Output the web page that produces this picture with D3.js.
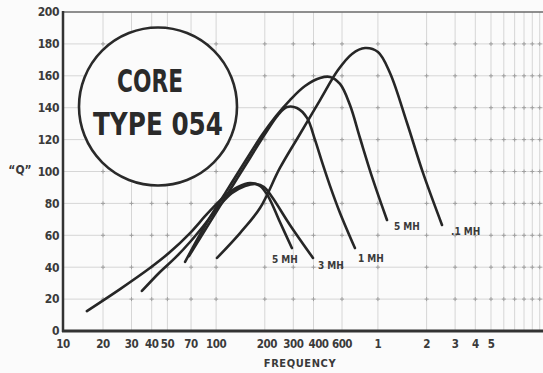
<!DOCTYPE html>
<html><head><meta charset="utf-8">
<script src="https://cdn.jsdelivr.net/npm/d3@7/dist/d3.min.js"></script>
<style>
html,body{margin:0;padding:0;background:#fbfbfb;}
svg{display:block;}
text{font-family:"Liberation Sans Narrow","DejaVu Sans Condensed","Arial Narrow",sans-serif;font-weight:bold;fill:#3a3a3a;}
</style></head>
<body>
<script>
// ---- data ----
const xTickValues = [10, 20, 30, 40, 50, 70, 100, 200, 300, 400, 600, 1000, 2000, 3000, 4000, 5000];
const xTickLabels = ["10","20","30","40","50","70","100","200","300","400","600","1","2","3","4","5"];
const xMinorGrid = [6000, 7000, 8000, 9000, 10000];
const yTickValues = [0, 20, 40, 60, 80, 100, 120, 140, 160, 180, 200];

const seriesNames = ["5 MH", "3 MH", "1 MH", "5 MH", ".1 MH"];
const freq5mH  = [15.9, 25.5, 39.0, 51.9, 69.0, 89.1, 113.5, 136.6, 162, 186.8, 209.4, 248, 294];
const q5mH     = [12.5, 26.3, 39.5, 49.5, 61.4, 74, 84.6, 90.3, 92.8, 90.9, 84.6, 68.3, 52];
const freq3mH  = [34.8, 45.0, 55.8, 69.0, 85.4, 105.8, 125.5, 151, 176.5, 197.8, 221.7, 286, 397];
const q3mH     = [25.1, 37, 45.8, 55.8, 67.1, 79, 86.5, 90.9, 92.2, 90.3, 84, 66.5, 45.8];
const freq1mH  = [68.0, 91.7, 121.9, 162, 200.5, 241.3, 274.3, 316, 364.6, 408.7, 451.3, 505.8, 583.3, 721];
const q1mH     = [47, 68.3, 88.4, 108.5, 123.5, 135.4, 140.4, 139.8, 133.6, 119.8, 106, 91, 74, 52];
const freq05mH = [64.3, 86.6, 115.1, 153, 192.1, 234.6, 286.2, 354.4, 439, 505.8, 583.3, 672, 775, 933, 1138];
const q05mH    = [43.3, 67.1, 87.2, 107.2, 122.9, 134.8, 144.8, 153.6, 158.6, 159.3, 154.9, 141.7, 121, 94.7, 69.6];
const freq01mH = [101.3, 140.6, 186.8, 248, 330, 439, 566.8, 691.7, 832.4, 1001, 1188, 1514, 1900, 2490];
const q01mH    = [45.8, 61.4, 77.1, 102.2, 123.5, 144.8, 163.6, 173.7, 177.4, 174.9, 161.8, 130.4, 99.1, 66.5];

const W = 543, H = 373;
const svg = d3.select("body").append("svg").attr("width", W).attr("height", H);

const plotLeft = 63, plotTop = 12, plotBottom = 331, plotRight = 543;
const x = d3.scaleLog().domain([10, 10000]).range([54.3, 539.7]);
const y = d3.scaleLinear().domain([0, 200]).range([plotBottom, plotTop]);

// grid
const gridFreqs = xTickValues.slice(1).concat(xMinorGrid);
const grid = svg.append("g");
grid.selectAll("line.v").data(gridFreqs).join("line")
  .attr("x1", d => x(d)).attr("x2", d => x(d))
  .attr("y1", plotTop).attr("y2", plotBottom)
  .attr("stroke", "#d6d6d6").attr("stroke-width", 1);
grid.selectAll("line.h").data(yTickValues.slice(1, -1)).join("line")
  .attr("x1", plotLeft).attr("x2", plotRight)
  .attr("y1", d => y(d)).attr("y2", d => y(d))
  .attr("stroke", "#d6d6d6").attr("stroke-width", 1);
const inter = [];
gridFreqs.forEach(f => yTickValues.slice(1, -1).forEach(q => inter.push([f, q])));
grid.selectAll("path.c").data(inter).join("path")
  .attr("d", d => `M${x(d[0]) - 2},${y(d[1])}h4M${x(d[0])},${y(d[1]) - 2}v4`)
  .attr("stroke", "#a0a0a0").attr("stroke-width", 1);

// frame
svg.append("line").attr("x1", plotLeft).attr("x2", plotRight).attr("y1", plotTop).attr("y2", plotTop)
  .attr("stroke", "#6a6a6a").attr("stroke-width", 1.5);
svg.append("line").attr("x1", plotLeft).attr("x2", plotLeft).attr("y1", plotTop - 1).attr("y2", plotBottom + 1)
  .attr("stroke", "#333").attr("stroke-width", 2.5);
svg.append("line").attr("x1", plotLeft - 1).attr("x2", plotRight).attr("y1", plotBottom).attr("y2", plotBottom)
  .attr("stroke", "#333").attr("stroke-width", 3);

// y tick labels
svg.append("g").selectAll("text").data(yTickValues).join("text")
  .attr("x", 59).attr("y", d => y(d)).attr("dy", "0.36em")
  .attr("text-anchor", "end").attr("font-size", 12).attr("letter-spacing", -0.4).text(d => d);

// x tick labels
const labelShift = {200: 2, 400: 5};
svg.append("g").selectAll("text").data(xTickValues).join("text")
  .attr("x", (d, i) => (i === 0 ? plotLeft : x(d)) + (labelShift[d] || 0)).attr("y", 348)
  .attr("text-anchor", "middle").attr("font-size", 11.5).attr("letter-spacing", -0.5)
  .text((d, i) => xTickLabels[i]);

// axis titles
svg.append("text").attr("x", 300).attr("y", 367).attr("text-anchor", "middle")
  .attr("font-size", 11).attr("letter-spacing", 0.6).text("FREQUENCY");
svg.append("text").attr("x", 20).attr("y", 170).attr("dy", "0.36em").attr("text-anchor", "middle")
  .attr("font-size", 12).text("\u201CQ\u201D");

// circle badge
svg.append("circle").attr("cx", 158).attr("cy", 106.5).attr("r", 79)
  .attr("fill", "#fbfbfb").attr("stroke", "#2a2a2a").attr("stroke-width", 2.6);
svg.append("text").attr("x", 150).attr("y", 92).attr("text-anchor", "middle")
  .attr("font-size", 32).attr("textLength", 66).attr("lengthAdjust", "spacingAndGlyphs")
  .style("fill", "#2a2a2a").text("CORE");
svg.append("text").attr("x", 158).attr("y", 135).attr("text-anchor", "middle")
  .attr("font-size", 32).attr("textLength", 130).attr("lengthAdjust", "spacingAndGlyphs")
  .style("fill", "#2a2a2a").text("TYPE  054");

// curves
const series = [
  {f: freq5mH, q: q5mH, dx: -20, dy: 15},
  {f: freq3mH, q: q3mH, dx: 5, dy: 11},
  {f: freq1mH, q: q1mH, dx: 3, dy: 14},
  {f: freq05mH, q: q05mH, dx: 7, dy: 10},
  {f: freq01mH, q: q01mH, dx: 9, dy: 10}
];
const line = d3.line().x(d => x(d[0])).y(d => y(d[1])).curve(d3.curveCatmullRom.alpha(0.5));
series.forEach((s, i) => {
  const pts = s.f.map((f, j) => [f, s.q[j]]);
  svg.append("path").attr("d", line(pts)).attr("fill", "none")
    .attr("stroke", "#262626").attr("stroke-width", 2.6).attr("stroke-linecap", "round");
  const last = pts[pts.length - 1];
  svg.append("text").attr("x", x(last[0]) + s.dx).attr("y", y(last[1]) + s.dy)
    .attr("font-size", 10).text(seriesNames[i]);
});
</script>
</body></html>
